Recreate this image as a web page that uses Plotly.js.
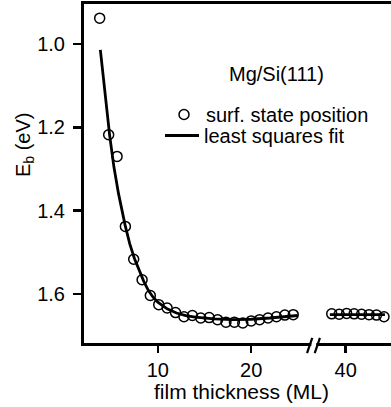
<!DOCTYPE html>
<html>
<head>
<meta charset="utf-8">
<script src="https://cdn.plot.ly/plotly-3.0.1.min.js"></script>
<style>html,body{margin:0;padding:0;background:#fff;}#chart{width:391px;height:407px;}</style>
</head>
<body>
<div id="chart"></div>
<script>
// Measured surface state positions (film thickness in ML, binding energy in eV)
const ptsX1 = [3.78, 4.74, 5.64, 6.53, 7.42, 8.32, 9.2, 10.1, 11.0, 11.9, 12.8, 13.7, 14.6, 15.5, 16.4, 17.3, 18.2, 19.1, 20.0, 20.9, 21.8, 22.7, 23.6, 24.5];
const ptsY1 = [0.938, 1.218, 1.27, 1.438, 1.517, 1.566, 1.604, 1.626, 1.634, 1.645, 1.655, 1.652, 1.658, 1.657, 1.662, 1.668, 1.668, 1.670, 1.665, 1.662, 1.658, 1.655, 1.651, 1.650];
const ptsX2 = [38.5, 39.3, 40.1, 40.9, 41.7, 42.5, 43.3, 44.1];
const ptsY2 = [1.648, 1.649, 1.647, 1.648, 1.649, 1.650, 1.651, 1.655];
// Least squares fit curve
const fitX1 = [3.85, 4.3, 4.85, 5.3, 5.8, 6.5, 7.0, 7.5, 8.0, 8.5, 9.0, 9.5, 10, 11, 12, 13, 14, 16, 18, 20, 22, 24, 25];
const fitY1 = [1.014, 1.11, 1.22, 1.295, 1.36, 1.435, 1.48, 1.515, 1.545, 1.57, 1.592, 1.608, 1.62, 1.636, 1.646, 1.652, 1.656, 1.66, 1.662, 1.661, 1.658, 1.654, 1.652];
const fitX2 = [38.3, 44.2];
const fitY2 = [1.65, 1.65];
// Axis ticks
const xTicks1 = [10, 20];
const xTicks2 = [40];
const yTicks = [1.0, 1.2, 1.4, 1.6];

const FONT = 'Liberation Sans, Arial, Helvetica, sans-serif';
const markerStyle = {symbol: 'circle-open', size: 10, color: '#000', line: {width: 1.5, color: '#000'}};
const lineStyle = {color: '#000', width: 2.8};

const traces = [
  {x: ptsX1, y: ptsY1, xaxis: 'x', yaxis: 'y', mode: 'markers', marker: markerStyle, name: 'surf. state position', showlegend: true, legend: 'legend'},
  {x: ptsX2, y: ptsY2, xaxis: 'x2', yaxis: 'y', mode: 'markers', marker: markerStyle, showlegend: false},
  {x: fitX1, y: fitY1, xaxis: 'x', yaxis: 'y', mode: 'lines', line: lineStyle, name: 'least squares fit', showlegend: true, legend: 'legend2'},
  {x: fitX2, y: fitY2, xaxis: 'x2', yaxis: 'y', mode: 'lines', line: lineStyle, showlegend: false}
];

const commonX = {
  showline: true, linewidth: 3, linecolor: '#000', mirror: true,
  showgrid: false, zeroline: false,
  ticks: 'outside', ticklen: 7, tickwidth: 2.5, tickcolor: '#000',
  tickfont: {family: FONT, size: 20, color: '#000'},
  fixedrange: true
};

const legendFont = {family: FONT, size: 20, color: '#000'};
const split = 0.7485;
const layout = {
  width: 391, height: 407,
  margin: {l: 84, r: 0, t: 4, b: 64, pad: 0},
  paper_bgcolor: '#fff', plot_bgcolor: '#fff',
  font: {family: FONT, size: 20, color: '#000'},
  xaxis: Object.assign({}, commonX, {
    domain: [0, split], range: [2.1, 26.7], tickmode: 'array', tickvals: xTicks1,
    ticktext: xTicks1.map(String)
  }),
  xaxis2: Object.assign({}, commonX, {
    domain: [split, 1], range: [36.58, 44.85], anchor: 'y', tickmode: 'array', tickvals: xTicks2,
    ticktext: xTicks2.map(String)
  }),
  yaxis: {
    range: [1.718, 0.904], autorange: false,
    showline: true, linewidth: 3, linecolor: '#000', mirror: false,
    showgrid: false, zeroline: false,
    ticks: 'outside', ticklen: 8, tickwidth: 2.5, tickcolor: '#000',
    tickmode: 'array', tickvals: yTicks, ticktext: yTicks.map(v => v.toFixed(1)),
    tickfont: {family: FONT, size: 20, color: '#000'},
    ticklabelstandoff: 4,
    fixedrange: true
  },
  showlegend: true,
  legend: {
    x: (162 - 84) / 307, y: 1 - (95 - 4) / 339, xanchor: 'left', yanchor: 'top',
    bgcolor: 'rgba(0,0,0,0)', borderwidth: 0, font: legendFont, itemwidth: 34
  },
  legend2: {
    x: (160 - 84) / 307, y: 1 - (116 - 4) / 339, xanchor: 'left', yanchor: 'top',
    bgcolor: 'rgba(0,0,0,0)', borderwidth: 0, font: legendFont, itemwidth: 34
  },
  annotations: [
    {text: 'film thickness (ML)', xref: 'paper', yref: 'paper', x: (241.5 - 84) / 307, y: 0, xanchor: 'center', yanchor: 'top', yshift: -35, showarrow: false, font: {family: FONT, size: 21, color: '#000'}},
    {text: 'E<sub>b</sub> (eV)', xref: 'paper', yref: 'paper', x: (24 - 84) / 307, y: 1 - (145 - 4) / 339, xanchor: 'center', yanchor: 'middle', textangle: -90, showarrow: false, font: {family: FONT, size: 20, color: '#000'}},
    {text: 'Mg/Si(111)', xref: 'paper', yref: 'paper', x: (276 - 84) / 307, y: 1 - (74 - 4) / 339, xanchor: 'center', yanchor: 'middle', showarrow: false, font: {family: FONT, size: 20, color: '#000'}}
  ],
  shapes: [
    {type: 'rect', xref: 'paper', yref: 'paper', x0: split - 0.008, x1: split + 0.008, y0: -0.03, y1: 0.01, fillcolor: '#fff', line: {width: 0}, layer: 'above'},
    {type: 'line', xref: 'paper', yref: 'paper', x0: split - 0.022, x1: split - 0.005, y0: -0.03, y1: 0.015, line: {color: '#000', width: 2.2}, layer: 'above'},
    {type: 'line', xref: 'paper', yref: 'paper', x0: split + 0.003, x1: split + 0.02, y0: -0.03, y1: 0.015, line: {color: '#000', width: 2.2}, layer: 'above'}
  ]
};

Plotly.newPlot('chart', traces, layout, {staticPlot: true, displayModeBar: false});
</script>
</body>
</html>
